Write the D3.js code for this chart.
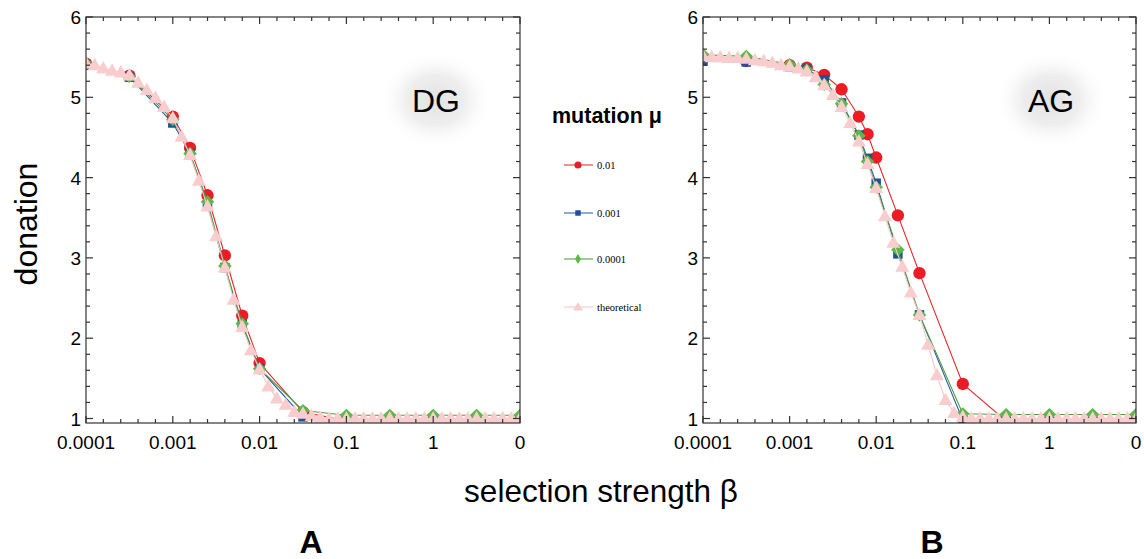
<!DOCTYPE html>
<html>
<head>
<meta charset="utf-8">
<script src="https://d3js.org/d3.v7.min.js"></script>
<title>donation vs selection strength</title>
<style>
  body { margin: 0; background: #fff; }
  svg text { font-family: "Liberation Sans", Arial, Helvetica, sans-serif; }
</style>
</head>
<body>
<div id="chart"></div>
<script>
// ---- data ----
var xTickVals = [0.0001, 0.001, 0.01, 0.1, 1, 10];
var xTickLabels = ["0.0001", "0.001", "0.01", "0.1", "1", "0"];
var yTickVals = [1, 2, 3, 4, 5, 6];

var legendNames = ["0.01", "0.001", "0.0001", "theoretical"];

// simulation points, panel A (DG)
var betaA = [0.0001, 0.000316, 0.001, 0.00158, 0.00251, 0.00398, 0.00631, 0.01, 0.0316, 0.1, 0.316, 1, 3.16, 10];
var dgRed   = [5.42, 5.27, 4.76, 4.37, 3.78, 3.03, 2.28, 1.69, 1.08, 0.97, 0.97, 0.97, 0.97, 0.97];
var dgBlue  = [5.40, 5.25, 4.68, 4.30, 3.66, 2.88, 2.17, 1.62, 1.02, 0.97, 0.97, 0.97, 0.97, 0.97];
var dgGreen = [5.42, 5.26, 4.72, 4.30, 3.70, 2.90, 2.18, 1.62, 1.10, 1.04, 1.04, 1.04, 1.04, 1.04];

// simulation points, panel B (AG)
var betaB = [0.0001, 0.000316, 0.001, 0.00158, 0.00251, 0.00398, 0.00631, 0.00794, 0.01, 0.0178, 0.0316, 0.1, 0.316, 1, 3.16, 10];
var agRed   = [5.48, 5.45, 5.40, 5.37, 5.28, 5.10, 4.76, 4.54, 4.25, 3.53, 2.81, 1.43, 0.97, 0.97, 0.97, 0.97];
var agBlue  = [5.45, 5.44, 5.38, 5.35, 5.22, 4.93, 4.53, 4.24, 3.93, 3.05, 2.29, 0.98, 0.97, 0.97, 0.97, 0.97];
var agGreen = [5.53, 5.51, 5.41, 5.34, 5.16, 4.92, 4.52, 4.20, 3.88, 3.10, 2.29, 1.06, 1.05, 1.05, 1.05, 1.05];

// theoretical curve
var betaTheory = [0.0001, 0.000126, 0.000158, 0.0002, 0.000251, 0.000316, 0.000398, 0.000501, 0.000631, 0.000794,
  0.001, 0.00126, 0.00158, 0.002, 0.00251, 0.00316, 0.00398, 0.00501, 0.00631, 0.00794,
  0.01, 0.0126, 0.0158, 0.02, 0.0251, 0.0316, 0.0398, 0.0501, 0.0631, 0.0794,
  0.1, 0.126, 0.158, 0.2, 0.251, 0.316, 0.398, 0.501, 0.631, 0.794,
  1, 1.26, 1.58, 2, 2.51, 3.16, 3.98, 5.01, 6.31, 7.94, 10];
var dgTheory = [5.42, 5.40, 5.36, 5.33, 5.31, 5.27, 5.18, 5.09, 4.99, 4.88,
  4.74, 4.51, 4.28, 3.96, 3.64, 3.27, 2.88, 2.48, 2.14, 1.85,
  1.61, 1.40, 1.25, 1.17, 1.08, 1.06, 1.03, 1.01, 1.00, 1.00,
  1.00, 1.00, 1.00, 1.00, 1.00, 1.00, 1.00, 1.00, 1.00, 1.00,
  1.00, 1.00, 1.00, 1.00, 1.00, 1.00, 1.00, 1.00, 1.00, 1.00, 1.00];
var agTheory = [5.51, 5.50, 5.50, 5.49, 5.49, 5.48, 5.46, 5.45, 5.43, 5.40,
  5.38, 5.36, 5.32, 5.25, 5.15, 5.03, 4.88, 4.68, 4.45, 4.17,
  3.87, 3.52, 3.19, 2.89, 2.57, 2.29, 1.92, 1.54, 1.23, 1.07,
  1.02, 1.00, 1.00, 1.00, 1.00, 1.00, 1.00, 1.00, 1.00, 1.00,
  1.00, 1.00, 1.00, 1.00, 1.00, 1.00, 1.00, 1.00, 1.00, 1.00, 1.00];

// ---- styles ----
var styles = [
  {fill: "#ec1c24", line: "#e8262b", shape: "circle"},
  {fill: "#1f4f9f", line: "#2a5aa8", shape: "square"},
  {fill: "#5db847", line: "#4c9e3c", shape: "diamond"},
  {fill: "#f9cdcd", line: "#f6c6c6", shape: "triangle"}
];

var W = 1144, H = 559;
var svg = d3.select("#chart").append("svg")
    .attr("width", W)
    .attr("height", H);

var defs = svg.append("defs");
var glow = defs.append("radialGradient").attr("id", "glow");
glow.append("stop").attr("offset", "0%").attr("stop-color", "#e2e2e2");
glow.append("stop").attr("offset", "50%").attr("stop-color", "#eeeeee");
glow.append("stop").attr("offset", "100%").attr("stop-color", "#ffffff").attr("stop-opacity", 0);

function markerPath(shape) {
  if (shape == "circle") return d3.symbol(d3.symbolCircle, 120)();
  if (shape == "square") return d3.symbol(d3.symbolSquare, 90)();
  if (shape == "diamond") return "M0,-6.5L6.8,0L0,6.5L-6.8,0Z";
  return "M0,-7.5L7,5L-7,5Z";
}

function drawPanel(p) {
  var x = d3.scaleLog().domain([0.0001, 10]).range([p.left, p.right]);
  var y = d3.scaleLinear().domain([0.944, 6]).range([p.bottom, p.top]);
  var g = svg.append("g");

  // label glow + tag
  g.append("ellipse")
    .attr("cx", p.tagX).attr("cy", 100)
    .attr("rx", 58).attr("ry", 50)
    .attr("fill", "url(#glow)");
  g.append("text")
    .attr("x", p.tagX).attr("y", 112)
    .attr("text-anchor", "middle")
    .style("font-size", "32px")
    .text(p.tag);

  defs.append("clipPath").attr("id", "clip" + p.id)
    .append("rect")
    .attr("x", p.left).attr("y", p.top)
    .attr("width", p.right - p.left).attr("height", p.bottom - p.top);

  var plot = g.append("g").attr("clip-path", "url(#clip" + p.id + ")");

  var sets = [
    {xs: p.simX, ys: p.red},
    {xs: p.simX, ys: p.blue},
    {xs: p.simX, ys: p.green},
    {xs: betaTheory, ys: p.theory}
  ];

  sets.forEach(function(s, i) {
    var pts = s.xs.map(function(b, j) { return [b, s.ys[j]]; });
    var line = d3.line()
      .x(function(d) { return x(d[0]); })
      .y(function(d) { return y(d[1]); });
    plot.append("path")
      .datum(pts)
      .attr("d", line)
      .attr("fill", "none")
      .attr("stroke", styles[i].line)
      .attr("stroke-width", 1.1);
    plot.selectAll(".m" + i)
      .data(pts)
      .enter().append("path")
      .attr("class", "m" + i)
      .attr("d", markerPath(styles[i].shape))
      .attr("transform", function(d) { return "translate(" + x(d[0]) + "," + y(d[1]) + ")"; })
      .attr("fill", styles[i].fill);
  });

  // frame with inward ticks
  var frame = g.append("g").attr("stroke", "#333").attr("stroke-width", 1.2);
  frame.append("rect")
    .attr("x", p.left).attr("y", p.top)
    .attr("width", p.right - p.left).attr("height", p.bottom - p.top)
    .attr("fill", "none");

  var xMinor = d3.range(-4, 1.001, 0.2).map(function(e) { return Math.pow(10, e); });
  xMinor.forEach(function(v) {
    var major = Math.abs(Math.log10(v) - Math.round(Math.log10(v))) < 1e-6;
    var len = major ? 7 : 4;
    frame.append("line").attr("x1", x(v)).attr("x2", x(v))
      .attr("y1", p.bottom).attr("y2", p.bottom - len);
    frame.append("line").attr("x1", x(v)).attr("x2", x(v))
      .attr("y1", p.top).attr("y2", p.top + len);
  });
  var yMinor = d3.range(1, 6.001, 0.2);
  yMinor.forEach(function(v) {
    var major = Math.abs(v - Math.round(v)) < 1e-6;
    var len = major ? 7 : 4;
    frame.append("line").attr("y1", y(v)).attr("y2", y(v))
      .attr("x1", p.left).attr("x2", p.left + len);
    frame.append("line").attr("y1", y(v)).attr("y2", y(v))
      .attr("x1", p.right).attr("x2", p.right - len);
  });

  g.selectAll(".xl" + p.id)
    .data(xTickVals)
    .enter().append("text")
    .attr("x", function(d) { return x(d); })
    .attr("y", p.bottom + 26)
    .attr("text-anchor", "middle")
    .style("font-size", "19px")
    .text(function(d, i) { return xTickLabels[i]; });

  g.selectAll(".yl" + p.id)
    .data(yTickVals)
    .enter().append("text")
    .attr("x", p.left - 5)
    .attr("y", function(d) { return y(d) + 7; })
    .attr("text-anchor", "end")
    .style("font-size", "19px")
    .text(function(d) { return d; });
}

drawPanel({id: "A", left: 86, right: 520, top: 17, bottom: 423, tag: "DG", tagX: 436,
  simX: betaA, red: dgRed, blue: dgBlue, green: dgGreen, theory: dgTheory});
drawPanel({id: "B", left: 703, right: 1136, top: 17, bottom: 423, tag: "AG", tagX: 1051,
  simX: betaB, red: agRed, blue: agBlue, green: agGreen, theory: agTheory});

// legend
var leg = svg.append("g");
leg.append("text")
  .attr("x", 552).attr("y", 123)
  .style("font-size", "21.5px")
  .style("font-weight", "bold")
  .text("mutation \u03bc");

var legY = [165, 213, 259, 307];
legendNames.forEach(function(name, i) {
  leg.append("line")
    .attr("x1", 564).attr("x2", 593)
    .attr("y1", legY[i]).attr("y2", legY[i])
    .attr("stroke", styles[i].line)
    .attr("stroke-opacity", 0.65)
    .attr("stroke-width", 1.6);
  leg.append("path")
    .attr("d", i == 3 ? "M0,-5L5,3.5L-5,3.5Z" : d3.symbol(i == 0 ? d3.symbolCircle : (i == 1 ? d3.symbolSquare : d3.symbolDiamond), i == 0 ? 40 : 30)())
    .attr("transform", "translate(578," + legY[i] + ")")
    .attr("fill", styles[i].fill);
  leg.append("text")
    .attr("x", 597).attr("y", legY[i] + 4)
    .style("font-family", "'Liberation Serif', 'Times New Roman', serif")
    .style("font-size", "10.5px")
    .text(name);
});

// axis titles and panel letters
svg.append("text")
  .attr("transform", "translate(37,224) rotate(-90)")
  .attr("text-anchor", "middle")
  .style("font-size", "32px")
  .text("donation");

svg.append("text")
  .attr("x", 601).attr("y", 502)
  .attr("text-anchor", "middle")
  .style("font-size", "31.5px")
  .text("selection strength \u03b2");

svg.append("text")
  .attr("x", 311).attr("y", 553)
  .attr("text-anchor", "middle")
  .style("font-size", "32px")
  .style("font-weight", "bold")
  .text("A");

svg.append("text")
  .attr("x", 932).attr("y", 553)
  .attr("text-anchor", "middle")
  .style("font-size", "32px")
  .style("font-weight", "bold")
  .text("B");
</script>
</body>
</html>
